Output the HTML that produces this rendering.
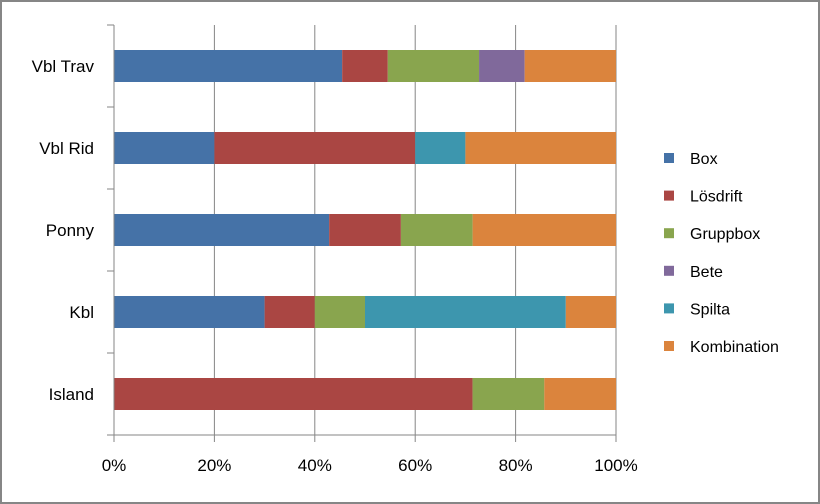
<!DOCTYPE html>
<html><head><meta charset="utf-8"><style>
body{margin:0;background:#fff}
svg{display:block;font-family:"Liberation Sans",sans-serif}
</style></head><body>
<svg width="820" height="504">
<rect x="1" y="1" width="818" height="502" fill="#fff" stroke="#868686" stroke-width="2"/>
<g id="grid"></g><g id="bars"></g><g id="axes"></g><g id="legend"></g>
</svg>
<script>
const categories=["Vbl Trav","Vbl Rid","Ponny","Kbl","Island"];
const seriesNames=["Box","Lösdrift","Gruppbox","Bete","Spilta","Kombination"];
const colors=["#4572a7","#aa4643","#89a54e","#80699b","#3d96ae","#db843d"];
const box=[45.45,20,42.86,30,0];
const losdrift=[9.09,40,14.29,10,71.43];
const gruppbox=[18.18,0,14.29,10,14.29];
const bete=[9.09,0,0,0,0];
const spilta=[0,10,0,40,0];
const kombination=[18.18,30,28.57,10,14.29];
const series=[box,losdrift,gruppbox,bete,spilta,kombination];
const ticks=[0,20,40,60,80,100];
const NS="http://www.w3.org/2000/svg";
const X0=114,X1=616,Y0=25,Y1=435,band=(Y1-Y0)/categories.length,bh=32;
const xs=v=>X0+(X1-X0)*v/100;
const yc=i=>Y0+band*i+band/2;
function mk(t,a,p){const e=document.createElementNS(NS,t);for(const k in a)e.setAttribute(k,a[k]);p.appendChild(e);return e;}
const grid=document.getElementById('grid'),bars=document.getElementById('bars'),axes=document.getElementById('axes'),leg=document.getElementById('legend');
ticks.forEach(t=>{
 if(t>0){const l=mk('line',{x1:xs(t),x2:xs(t),y1:Y0,y2:Y1+7,stroke:'#868686','stroke-width':1},grid);
 
 }
 const tx=mk('text',{x:xs(t),y:Y1+36,'text-anchor':'middle','font-size':17,fill:'#000'},axes);
 tx.textContent=t+'%';
 
 
});
categories.forEach((c,i)=>{
 let acc=0;
 series.forEach((s,j)=>{const v=s[i];if(v>0){
  const r=mk('rect',{x:xs(acc),y:yc(i)-bh/2,width:xs(acc+v)-xs(acc),height:bh,fill:colors[j]},bars);
  
  }
  acc+=v;});
 const tx=mk('text',{x:94,y:yc(i)+6,'text-anchor':'end','font-size':17,fill:'#000'},axes);
 tx.textContent=c;
 
 
});
const ya=mk('line',{x1:X0,x2:X0,y1:Y0,y2:Y1,stroke:'#868686'},axes);


const xa=mk('line',{x1:X0-7,x2:X1,y1:Y1,y2:Y1,stroke:'#868686'},axes);


xs(0);
const yt=mk('line',{x1:X0,x2:X0,y1:Y1,y2:Y1+7,stroke:'#868686'},axes);


for(let i=0;i<categories.length;i++){const l=mk('line',{x1:X0-7,x2:X0,y1:Y0+band*i,y2:Y0+band*i,stroke:'#868686'},axes);
 
 }
seriesNames.forEach((n,j)=>{const y=158+j*37.6;
 const r=mk('rect',{x:664,y:y-5,width:10,height:10,fill:colors[j]},leg);
 
 
 const t=mk('text',{x:690,y:y+6,'font-size':16,fill:'#000'},leg);
 t.textContent=n;
 
 });
</script>
</body></html>
